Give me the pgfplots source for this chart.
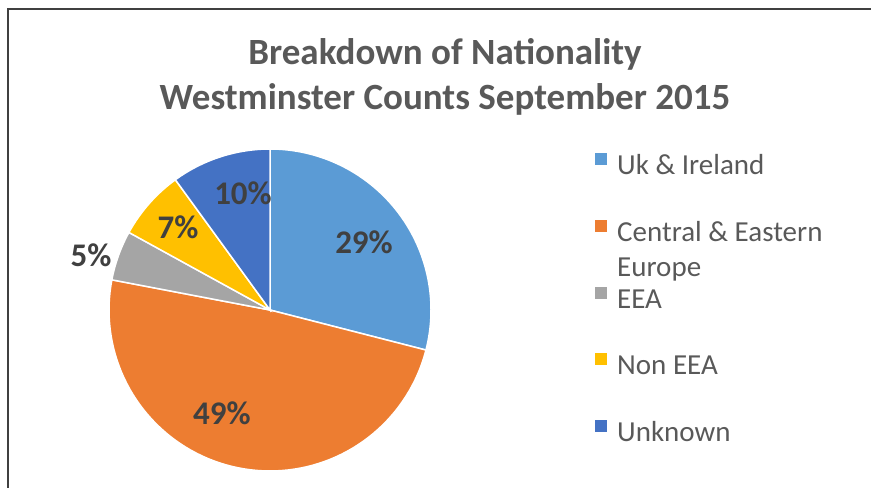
\documentclass[border=0pt]{standalone}
\usepackage{pgfplots}
\pgfplotsset{compat=1.18}
\usepackage{fontspec}
\setmainfont{Carlito}

\definecolor{ukblue}{HTML}{5B9BD5}
\definecolor{ceorange}{HTML}{ED7D31}
\definecolor{eeagray}{HTML}{A5A5A5}
\definecolor{noneea}{HTML}{FFC000}
\definecolor{unkblue}{HTML}{4472C4}
\definecolor{titlegray}{HTML}{595959}
\definecolor{labelgray}{HTML}{404040}

% shares in percent, clockwise from 12 o'clock
\def\vUK{29}
\def\vCE{49}
\def\vEEA{5}
\def\vNon{7}
\def\vUnk{10}

\pgfmathsetmacro\aO{90}
\pgfmathsetmacro\aA{\aO-3.6*\vUK}
\pgfmathsetmacro\aB{\aA-3.6*\vCE}
\pgfmathsetmacro\aC{\aB-3.6*\vEEA}
\pgfmathsetmacro\aD{\aC-3.6*\vNon}
\pgfmathsetmacro\aE{\aD-3.6*\vUnk}

\def\cx{270}
\def\cy{178}
\def\rr{161}

\begin{document}
\begin{tikzpicture}
\begin{axis}[
    at={(0,0)}, anchor=south west,
    width=871bp, height=488bp, scale only axis,
    xmin=0, xmax=871, ymin=0, ymax=488,
    hide axis, clip=false,
    samples=80,
    legend image code/.code={\fill[#1, draw=none] (0bp,3bp) rectangle (12bp,15bp);},
    legend cell align=left,
    legend style={
        at={(axis cs:595,335)}, anchor=north west,
        draw=none, fill=none, inner sep=0pt,
        font=\fontsize{29bp}{35bp}\selectfont, text=titlegray,
        nodes={inner sep=0pt, text height=20bp, text depth=7bp},
        row sep=38.25bp,
        /tikz/every odd column/.style={column sep=10bp},
    },
]
\addplot[fill=ukblue, draw=white, line width=1.5bp, domain=\aA:\aO]
    ({\cx+\rr*cos(x)}, {\cy+\rr*sin(x)}) -- (axis cs:\cx,\cy) -- cycle;
\addlegendentry{Uk \& Ireland}
\addplot[fill=ceorange, draw=white, line width=1.5bp, domain=\aB:\aA]
    ({\cx+\rr*cos(x)}, {\cy+\rr*sin(x)}) -- (axis cs:\cx,\cy) -- cycle;
\addlegendentry{\smash{\begin{tabular}[t]{@{}l@{}}Central \& Eastern\\Europe\end{tabular}}}
\addplot[fill=eeagray, draw=white, line width=1.5bp, domain=\aC:\aB]
    ({\cx+\rr*cos(x)}, {\cy+\rr*sin(x)}) -- (axis cs:\cx,\cy) -- cycle;
\addlegendentry{EEA}
\addplot[fill=noneea, draw=white, line width=1.5bp, domain=\aD:\aC]
    ({\cx+\rr*cos(x)}, {\cy+\rr*sin(x)}) -- (axis cs:\cx,\cy) -- cycle;
\addlegendentry{Non EEA}
\addplot[fill=unkblue, draw=white, line width=1.5bp, domain=\aE:\aD]
    ({\cx+\rr*cos(x)}, {\cy+\rr*sin(x)}) -- (axis cs:\cx,\cy) -- cycle;
\addlegendentry{Unknown}

% data labels
\begin{scope}[every node/.style={font=\fontsize{33bp}{38bp}\selectfont\bfseries, text=labelgray}]
\node at (axis cs:364,246) {\vUK\%};
\node at (axis cs:222,75) {\vCE\%};
\node at (axis cs:91,233) {\vEEA\%};
\node at (axis cs:178,261) {\vNon\%};
\node at (axis cs:243,295) {\vUnk\%};
\end{scope}

% title
\node[font=\fontsize{37bp}{44bp}\selectfont\bfseries, text=titlegray, anchor=base]
    at (axis cs:445,423) {Breakdown of Nationality};
\node[font=\fontsize{37bp}{44bp}\selectfont\bfseries, text=titlegray, anchor=base]
    at (axis cs:445,378) {Westminster Counts September 2015};

% chart frame
\draw[labelgray, line width=1.5bp] (axis cs:8,0) -- (axis cs:8,479) -- (axis cs:871,479);
\end{axis}
\pgfresetboundingbox
\useasboundingbox (0,0) rectangle (871bp,488bp);
\end{tikzpicture}
\end{document}
